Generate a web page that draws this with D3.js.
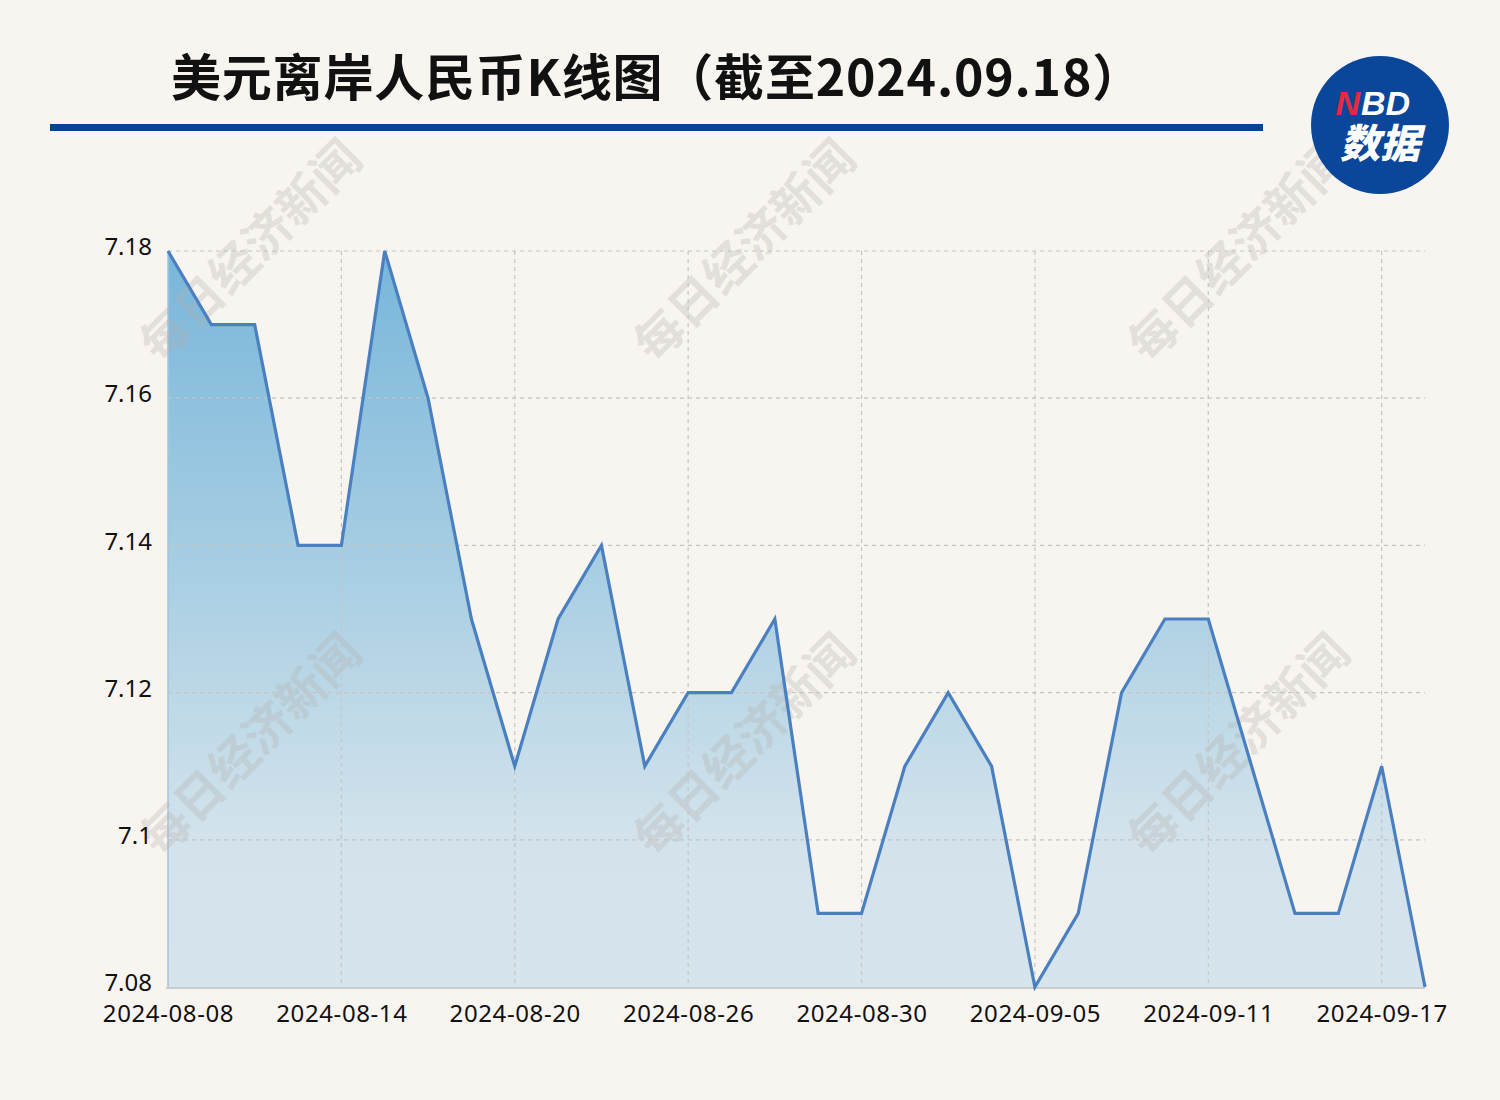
<!DOCTYPE html>
<html><head><meta charset="utf-8">
<script src="https://cdn.jsdelivr.net/npm/d3@7"></script>
<style>html,body{margin:0;padding:0;background:#f8f5f1;}svg{display:block;}</style>
</head><body>
<svg id="c" width="1500" height="1100"></svg>
<script>
const dates = ["2024-08-08","2024-08-09","2024-08-12","2024-08-13","2024-08-14","2024-08-15","2024-08-16","2024-08-19","2024-08-20","2024-08-21","2024-08-22","2024-08-23","2024-08-26","2024-08-27","2024-08-28","2024-08-29","2024-08-30","2024-09-02","2024-09-03","2024-09-04","2024-09-05","2024-09-06","2024-09-09","2024-09-10","2024-09-11","2024-09-12","2024-09-13","2024-09-16","2024-09-17","2024-09-18"];
const values = [7.18,7.17,7.17,7.14,7.14,7.18,7.16,7.13,7.11,7.13,7.14,7.11,7.12,7.12,7.13,7.09,7.09,7.11,7.12,7.11,7.08,7.09,7.12,7.13,7.13,7.11,7.09,7.09,7.11,7.08];
const yTicks = [7.08,7.1,7.12,7.14,7.16,7.18];
const xTickLabels = ["2024-08-08","2024-08-14","2024-08-20","2024-08-26","2024-08-30","2024-09-05","2024-09-11","2024-09-17"];
const title = "美元离岸人民币K线图（截至2024.09.18）";
const watermark = "每日经济新闻";

const svg = d3.select("#c");
const L = 168, R = 1425, T = 251, B = 987;
const x = d3.scalePoint().domain(dates).range([L, R]);
const y = d3.scaleLinear().domain([7.08, 7.18]).range([B, T]);

// title
svg.append("text").attr("x", 171).attr("y", 96)
  .attr("font-family", "'Noto Sans CJK SC', sans-serif").attr("font-weight", 700)
  .attr("font-size", 50).attr("letter-spacing", 0.8).attr("fill", "#111").text(title);
svg.append("rect").attr("x", 50).attr("y", 124).attr("width", 1213).attr("height", 7).attr("fill", "#004494");

// gradient
const defs = svg.append("defs");
const g = defs.append("linearGradient").attr("id", "ag")
  .attr("gradientUnits", "userSpaceOnUse").attr("x1", 0).attr("y1", T).attr("x2", 0).attr("y2", B);
g.append("stop").attr("offset", "0%").attr("stop-color", "#78b6db");
g.append("stop").attr("offset", "45%").attr("stop-color", "#aacfe3");
g.append("stop").attr("offset", "80%").attr("stop-color", "#d3e3ec");
g.append("stop").attr("offset", "100%").attr("stop-color", "#d6e4ec");

// area
svg.append("path").datum(values)
  .attr("d", d3.area().x((d, i) => x(dates[i])).y0(B).y1(d => y(d)))
  .attr("fill", "url(#ag)");
svg.append("line").attr("x1", L).attr("x2", L).attr("y1", T).attr("y2", B)
  .attr("stroke", "#a9c3d8").attr("stroke-width", 1.5);

// watermarks
const wmPos = [[248, 248], [742, 248], [1236, 248], [248, 742], [742, 742], [1236, 742]];
wmPos.forEach(p => {
  svg.append("text").attr("transform", `translate(${p[0]},${p[1]}) rotate(-45)`)
    .attr("text-anchor", "middle").attr("dominant-baseline", "central")
    .attr("font-family", "'Noto Sans CJK SC', sans-serif").attr("font-weight", 700)
    .attr("font-size", 48).attr("fill", "#b4b0ac").attr("opacity", 0.3).text(watermark);
});

// grid
const grid = svg.append("g");
yTicks.forEach(t => {
  if (t === 7.08) return;
  grid.append("line").attr("x1", L).attr("x2", R).attr("y1", y(t)).attr("y2", y(t))
    .attr("stroke", "#c4c4c4").attr("stroke-width", 1.2).attr("stroke-dasharray", "4,4");
});
xTickLabels.forEach(d => {
  if (d === dates[0]) return;
  grid.append("line").attr("x1", x(d)).attr("x2", x(d)).attr("y1", T).attr("y2", B)
    .attr("stroke", "#c4c4c4").attr("stroke-width", 1.2).attr("stroke-dasharray", "4,4");
});

// bottom axis line
svg.append("line").attr("x1", L - 2).attr("x2", R).attr("y1", B + 1).attr("y2", B + 1)
  .attr("stroke", "#cccccc").attr("stroke-width", 2);

// line
svg.append("path").datum(values)
  .attr("d", d3.line().x((d, i) => x(dates[i])).y(d => y(d)))
  .attr("fill", "none").attr("stroke", "#4a80c0").attr("stroke-width", 3.2).attr("stroke-linejoin", "miter");

// axes labels
const yAxis = d3.axisLeft(y).tickValues(yTicks).tickFormat(d => String(+d.toFixed(2))).tickSize(0).tickPadding(16);
const ya = svg.append("g").attr("transform", `translate(${L},-4)`).call(yAxis);
ya.select(".domain").remove();
ya.selectAll("text").attr("font-family", "'Noto Sans', sans-serif").attr("font-size", 24).attr("fill", "#111");

const xAxis = d3.axisBottom(x).tickValues(xTickLabels).tickSize(0).tickPadding(16);
const xa = svg.append("g").attr("transform", `translate(0,${B + 2})`).call(xAxis);
xa.select(".domain").remove();
xa.selectAll("text").attr("font-family", "'Noto Sans', sans-serif").attr("font-size", 24)
  .attr("letter-spacing", 0.6).attr("fill", "#111");

// logo
const lg = svg.append("g").attr("transform", "translate(1380,125)");
lg.append("circle").attr("r", 69).attr("fill", "#0a479a");
lg.append("text").attr("x", -20).attr("y", -10).attr("text-anchor", "end")
  .attr("font-family", "'Liberation Sans', Arial, sans-serif").attr("font-weight", 700)
  .attr("font-style", "italic").attr("font-size", 34).attr("fill", "#e8283c").text("N");
lg.append("text").attr("x", -19).attr("y", -10).attr("text-anchor", "start")
  .attr("font-family", "'Liberation Sans', Arial, sans-serif").attr("font-weight", 700)
  .attr("font-style", "italic").attr("font-size", 34).attr("fill", "#ffffff").text("BD");
lg.append("text").attr("y", 33).attr("text-anchor", "middle")
  .attr("font-family", "'Noto Sans CJK SC', sans-serif").attr("font-weight", 900)
  .attr("font-size", 40).attr("fill", "#ffffff").attr("font-style", "italic").text("数据");
</script>
</body></html>
